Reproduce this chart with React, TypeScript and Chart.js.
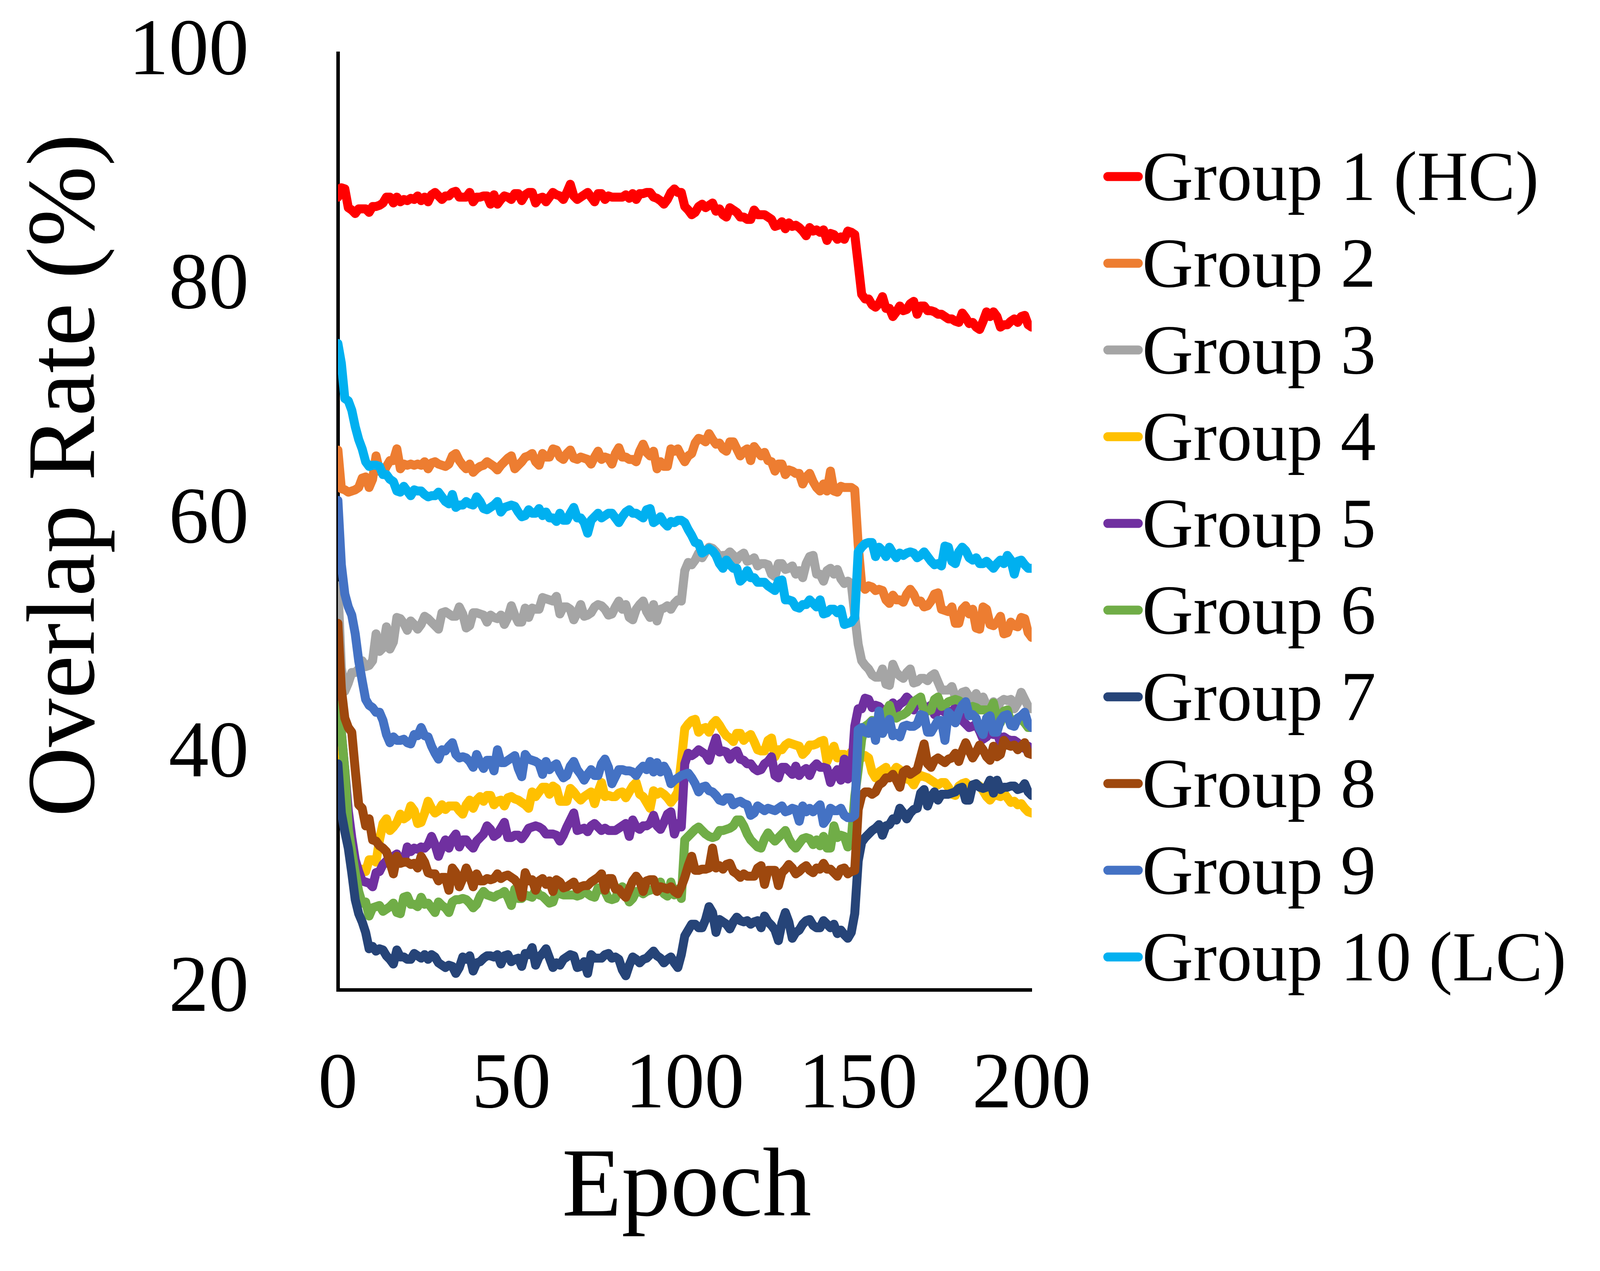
import React, { useEffect, useRef } from "react";
import { Chart, registerables } from "chart.js";

Chart.register(...registerables);

const SERIES_NAMES = [
  "Group 1 (HC)", "Group 2", "Group 3", "Group 4", "Group 5",
  "Group 6", "Group 7", "Group 8", "Group 9", "Group 10 (LC)",
];

const X_TICKS = [0, 50, 100, 150, 200];
const Y_TICKS = [20, 40, 60, 80, 100];

const GROUP1 = [
  87.7, 88.5, 88.4, 86.8, 86.6, 86.3, 86.7, 86.7, 86.7, 86.4, 86.9, 86.9, 87.0, 87.2, 87.7, 87.7, 87.2, 87.7, 87.3, 87.5,
  87.4, 87.6, 87.5, 87.8, 87.4, 87.7, 87.3, 87.9, 88.1, 87.8, 87.5, 87.8, 87.8, 88.1, 88.2, 87.7, 87.7, 87.7, 88.1, 87.3,
  87.7, 87.7, 87.8, 87.8, 87.1, 87.9, 87.1, 87.5, 87.8, 87.7, 87.5, 88.0, 88.0, 87.4, 87.9, 88.1, 88.1, 87.2, 87.6, 87.7,
  87.3, 87.7, 88.1, 87.9, 87.8, 87.5, 88.1, 88.8, 87.8, 87.5, 87.7, 87.9, 88.1, 87.7, 87.3, 88.0, 88.0, 87.5, 87.8, 87.7,
  87.7, 87.7, 87.7, 87.9, 87.6, 88.0, 87.5, 88.0, 88.0, 88.1, 88.1, 87.7, 87.6, 87.4, 87.1, 87.5, 88.1, 88.4, 88.1, 88.1,
  86.9, 86.6, 86.2, 86.4, 86.9, 87.1, 86.8, 87.0, 87.2, 86.5, 86.7, 86.2, 86.0, 86.8, 86.6, 86.4, 86.0, 86.0, 85.8, 85.8,
  86.6, 86.2, 86.2, 86.2, 86.0, 85.8, 85.2, 85.3, 85.6, 85.0, 85.5, 85.2, 85.3, 85.1, 84.8, 84.4, 85.1, 84.8, 84.9, 84.7,
  84.9, 84.0, 84.6, 84.5, 84.1, 84.3, 84.1, 84.8, 84.7, 84.5, 82.0, 79.4, 79.0, 79.0, 78.5, 78.3, 78.6, 79.2, 78.2, 78.2,
  77.5, 77.9, 78.4, 78.0, 78.1, 78.6, 78.8, 77.7, 78.4, 78.4, 78.0, 78.0, 77.9, 77.7, 77.7, 77.5, 77.3, 77.3, 77.1, 77.0,
  77.8, 77.4, 76.9, 77.0, 76.6, 76.4, 77.1, 77.9, 77.5, 77.9, 77.5, 76.6, 76.8, 76.8, 77.1, 77.3, 77.0, 77.5, 77.6, 76.8,
  76.6,
];

const GROUP2 = [
  66.1, 62.8, 62.7, 62.5, 62.6, 62.7, 62.9, 63.7, 63.8, 62.9, 63.6, 65.6, 64.3, 64.1, 64.7, 65.2, 65.2, 66.2, 64.5, 64.9,
  64.8, 64.9, 64.8, 64.9, 64.8, 65.1, 64.5, 65.0, 65.1, 64.9, 64.8, 64.7, 64.9, 65.6, 65.8, 65.2, 64.8, 64.5, 64.9, 64.2,
  64.5, 64.7, 64.8, 65.1, 64.9, 64.7, 64.4, 64.8, 65.1, 65.4, 65.6, 64.5, 64.8, 65.1, 65.5, 65.6, 65.8, 65.1, 64.8, 65.8,
  65.5, 65.5, 66.2, 66.1, 65.5, 65.3, 65.8, 66.1, 65.4, 65.3, 65.5, 65.4, 65.3, 64.9, 65.5, 66.0, 65.3, 65.5, 65.4, 64.9,
  65.8, 66.3, 65.5, 65.5, 65.3, 65.3, 65.1, 66.0, 66.6, 65.9, 65.6, 66.0, 64.5, 65.1, 64.7, 64.7, 66.2, 66.0, 66.2, 65.6,
  65.1, 65.6, 65.8, 66.7, 67.1, 67.0, 66.8, 67.5, 67.0, 66.6, 66.7, 66.2, 66.0, 66.8, 66.8, 66.2, 65.6, 66.0, 66.2, 65.2,
  66.4, 66.0, 65.6, 65.9, 65.2, 65.1, 64.3, 64.9, 64.9, 64.0, 64.4, 64.3, 64.1, 64.1, 63.2, 63.8, 64.1, 63.4, 62.9, 62.6,
  63.2, 62.6, 64.3, 62.6, 62.5, 63.0, 62.9, 62.9, 62.9, 62.7, 58.0, 54.6, 54.2, 54.5, 54.4, 54.1, 54.2, 54.1, 53.3, 53.0,
  53.7, 53.3, 53.3, 53.1, 53.8, 54.2, 53.8, 53.1, 53.2, 52.7, 52.8, 53.2, 53.8, 53.9, 52.5, 52.4, 52.3, 52.7, 51.3, 51.3,
  52.5, 52.8, 52.1, 52.5, 50.9, 50.8, 52.7, 52.5, 51.2, 51.1, 51.4, 51.9, 50.4, 50.5, 51.4, 51.1, 51.0, 51.8, 51.7, 50.5,
  50.1,
];

const GROUP3 = [
  54.5, 47.5, 45.5, 46.2, 47.1, 47.1, 47.4, 48.1, 47.6, 47.7, 48.1, 50.4, 48.9, 49.2, 51.0, 49.1, 49.7, 51.8, 51.7, 51.3,
  50.7, 51.5, 51.2, 50.8, 51.2, 51.9, 51.7, 51.4, 51.1, 50.8, 52.2, 52.3, 52.1, 51.9, 51.9, 52.7, 52.1, 50.9, 51.1, 52.2,
  52.2, 52.1, 52.0, 51.4, 52.0, 51.8, 51.7, 52.0, 51.2, 51.8, 52.8, 52.0, 51.4, 51.4, 52.6, 51.8, 52.6, 52.5, 52.5, 53.5,
  53.4, 53.3, 53.2, 53.6, 52.1, 52.7, 52.7, 52.5, 51.6, 52.2, 52.9, 51.9, 52.0, 52.2, 52.7, 52.9, 52.8, 52.5, 52.0, 52.1,
  52.7, 53.2, 52.5, 52.9, 51.8, 51.6, 52.5, 52.9, 53.2, 52.3, 51.8, 52.9, 51.5, 52.5, 52.6, 52.8, 52.5, 53.0, 53.3, 53.2,
  55.8, 56.5, 56.3, 56.7, 57.3, 56.9, 57.4, 57.8, 57.7, 57.4, 57.0, 57.1, 57.1, 57.4, 57.1, 56.7, 57.1, 57.3, 56.6, 56.7,
  56.9, 56.2, 56.4, 56.4, 56.3, 55.5, 55.3, 56.4, 56.4, 55.9, 56.0, 56.2, 55.5, 55.8, 55.2, 56.4, 57.0, 57.1, 55.5, 55.5,
  54.9, 55.8, 56.0, 55.5, 55.9, 55.1, 54.7, 54.9, 54.7, 52.0, 49.5, 48.1, 47.7, 47.4, 46.9, 46.7, 46.7, 47.4, 46.1, 46.0,
  47.8, 47.1, 46.8, 46.6, 47.1, 47.4, 46.2, 46.3, 46.6, 46.6, 46.4, 46.8, 47.0, 46.3, 45.6, 45.6, 45.6, 45.9, 45.0, 45.0,
  45.4, 45.5, 45.0, 44.8, 45.3, 44.6, 45.0, 44.3, 44.1, 44.6, 43.9, 44.6, 44.8, 44.7, 44.8, 44.0, 44.5, 45.4, 44.8, 44.2,
  44.0,
];

const GROUP4 = [
  41.0, 38.0, 35.0, 33.0, 31.5, 30.6, 30.2, 30.3, 30.1, 31.1, 31.1, 30.9, 32.8, 34.2, 34.6, 33.6, 33.9, 34.3, 35.0, 34.6,
  34.8, 35.7, 35.3, 34.2, 34.3, 35.1, 36.1, 35.5, 35.1, 35.3, 35.8, 35.4, 35.7, 35.7, 35.7, 35.3, 35.0, 35.8, 36.2, 35.5,
  36.2, 36.5, 36.1, 36.6, 36.6, 35.8, 36.1, 36.2, 35.7, 36.4, 36.5, 36.3, 36.2, 36.0, 35.8, 35.5, 36.9, 36.5, 36.9, 37.3,
  37.3, 36.7, 37.4, 37.2, 36.1, 36.1, 36.1, 37.2, 36.9, 36.5, 36.2, 36.5, 36.7, 36.9, 35.9, 36.9, 37.7, 36.5, 36.6, 36.5,
  36.5, 36.8, 36.9, 36.4, 36.9, 37.4, 37.7, 36.7, 36.5, 36.0, 35.5, 37.0, 36.7, 36.9, 36.7, 36.4, 36.0, 36.4, 36.9, 39.5,
  42.3, 42.7, 43.0, 43.1, 42.0, 42.3, 42.4, 42.0, 42.7, 43.0, 42.6, 42.1, 41.7, 41.5, 41.2, 41.9, 41.9, 41.3, 41.6, 41.8,
  41.2, 40.5, 40.4, 40.4, 41.3, 41.5, 39.9, 40.5, 40.5, 40.9, 41.1, 41.0, 40.9, 40.8, 40.1, 40.4, 40.9, 40.9, 41.0, 41.2,
  41.3, 39.5, 40.2, 40.8, 39.8, 40.1, 40.1, 39.7, 40.3, 40.0, 40.6, 39.8, 40.0, 39.8, 38.6, 38.1, 38.6, 38.8, 39.0, 38.1,
  38.6, 39.0, 38.8, 38.3, 38.0, 37.9, 37.5, 38.1, 38.3, 38.2, 38.1, 37.9, 37.7, 37.5, 37.7, 37.7, 37.3, 36.7, 36.6, 37.4,
  37.6, 37.7, 37.4, 37.4, 37.6, 37.4, 37.0, 36.5, 36.2, 36.6, 36.6, 36.5, 36.8, 36.4, 36.0, 36.1, 35.8, 35.9, 35.5, 35.2,
  35.1,
];

const GROUP5 = [
  46.0, 42.0, 38.8, 35.3, 33.0, 31.1, 30.1, 29.3, 29.2, 29.1, 28.8, 30.0, 30.1, 30.7, 31.0, 30.7, 31.4, 31.6, 31.0, 30.9,
  32.2, 31.8, 32.1, 32.0, 32.2, 32.1, 32.4, 33.1, 32.4, 31.4, 32.2, 32.8, 32.1, 32.9, 33.3, 32.2, 32.8, 32.8, 32.4, 32.1,
  32.7, 33.0, 33.3, 34.0, 33.7, 33.1, 33.3, 33.8, 34.3, 33.0, 33.0, 33.2, 33.2, 32.9, 33.3, 33.8, 33.9, 34.0, 33.9, 33.7,
  33.3, 33.3, 33.3, 33.2, 32.7, 33.2, 33.9, 34.5, 35.1, 33.6, 33.7, 33.8, 33.5, 34.0, 34.2, 33.9, 33.6, 33.8, 33.6, 33.6,
  33.6, 33.8, 34.0, 34.2, 33.1, 34.5, 33.9, 33.7, 34.0, 34.0, 34.2, 34.9, 34.0, 33.7, 34.3, 35.0, 35.2, 33.3, 34.2, 33.9,
  39.3, 40.2, 40.0, 40.2, 40.5, 40.3, 40.1, 39.6, 40.6, 41.5, 40.3, 40.4, 40.3, 39.7, 40.2, 40.4, 39.7, 39.6, 39.3, 39.3,
  38.9, 38.7, 38.8, 39.3, 39.5, 39.9, 38.3, 38.1, 39.0, 39.0, 38.7, 38.4, 39.1, 38.3, 38.7, 38.9, 38.3, 39.0, 39.3, 39.0,
  39.0, 38.9, 37.7, 38.4, 38.8, 37.9, 39.7, 38.0, 38.3, 42.5, 44.0, 44.0, 44.9, 44.8, 44.1, 44.3, 44.2, 43.9, 43.4, 44.1,
  44.5, 44.0, 44.4, 44.6, 45.0, 44.7, 43.9, 44.6, 44.8, 44.1, 44.1, 44.3, 43.5, 43.8, 43.9, 43.7, 43.8, 43.7, 44.1, 43.7,
  43.0, 42.7, 42.4, 42.5, 42.7, 42.1, 41.4, 41.6, 42.1, 41.8, 42.0, 41.1, 41.6, 41.4, 41.3, 41.3, 41.1, 40.8, 40.6, 40.8,
  40.6,
];

const GROUP6 = [
  44.3, 42.0, 38.8, 33.7, 31.8, 30.0, 28.4, 27.4, 27.5, 26.3, 27.0, 27.1, 27.2, 26.7, 26.9, 27.1, 27.4, 26.6, 26.5, 27.9,
  28.0, 27.3, 27.3, 27.1, 27.9, 27.3, 27.4, 27.0, 26.6, 27.5, 27.2, 27.0, 26.6, 27.5, 27.7, 27.7, 27.8, 27.7, 27.4, 27.0,
  27.3, 28.0, 28.4, 28.1, 28.0, 27.9, 28.1, 28.2, 28.4, 27.9, 27.2, 28.6, 27.8, 27.8, 28.1, 28.0, 27.9, 28.6, 28.1, 28.0,
  27.7, 27.4, 27.5, 28.4, 28.2, 28.1, 28.1, 28.1, 28.1, 28.0, 28.1, 28.5, 28.2, 28.0, 27.9, 28.7, 28.6, 28.4, 27.8, 27.7,
  27.8, 28.6, 28.8, 28.1, 27.5, 27.8, 28.4, 28.4, 28.2, 28.4, 28.5, 28.6, 28.8, 29.2, 28.2, 28.0, 29.2, 28.1, 28.6, 27.8,
  32.8, 33.1, 33.4, 33.7, 33.9, 33.6, 33.3, 33.1, 33.0, 33.1, 33.6, 33.6, 33.7, 33.8, 34.0, 34.5, 34.5, 34.0, 33.3, 32.8,
  32.5, 32.2, 32.1, 32.9, 33.4, 33.0, 32.7, 33.0, 33.3, 33.6, 32.9, 32.4, 32.1, 32.5, 32.9, 33.0, 32.9, 32.4, 32.8, 32.3,
  33.1, 32.1, 32.1, 34.0, 33.0, 33.2, 33.1, 32.2, 32.8, 36.5, 38.8, 41.4, 42.5, 42.7, 43.0, 42.4, 42.0, 41.9, 43.7, 44.3,
  43.3, 43.2, 43.4, 43.5, 43.7, 44.1, 44.6, 44.8, 45.0, 43.7, 43.8, 43.9, 44.8, 45.0, 44.2, 44.3, 44.6, 44.7, 44.8, 44.7,
  44.5, 44.2, 44.1, 44.2, 44.1, 43.9, 43.9, 43.9, 43.9, 44.5, 43.2, 42.8, 43.8, 43.9, 42.8, 43.0, 43.2, 43.1, 42.8, 42.4,
  42.4,
];

const GROUP7 = [
  39.3, 35.1, 33.5, 32.1, 30.0, 27.7, 26.5, 25.8, 24.9, 23.5, 23.7, 23.3, 23.5, 23.4, 22.9, 22.6, 22.2, 23.4, 22.8, 22.8,
  22.6, 22.6, 23.1, 22.9, 22.7, 23.0, 22.6, 23.0, 22.8, 22.3, 22.1, 21.9, 22.1, 22.0, 21.4, 21.9, 22.8, 22.6, 22.9, 21.6,
  22.3, 22.4, 22.7, 22.9, 22.9, 22.8, 23.0, 22.2, 22.9, 23.0, 22.4, 22.6, 22.7, 22.0, 23.1, 23.0, 23.6, 22.1, 22.8, 23.1,
  23.5, 22.7, 21.9, 22.3, 22.1, 22.6, 22.8, 23.0, 22.9, 21.9, 22.0, 22.4, 21.4, 23.0, 22.7, 22.7, 22.7, 23.0, 23.1, 22.7,
  22.8, 22.6, 21.7, 21.2, 22.1, 22.8, 22.6, 22.3, 22.6, 22.7, 23.0, 23.3, 22.9, 22.7, 22.3, 22.6, 22.8, 22.3, 21.9, 23.0,
  24.6, 25.1, 25.6, 25.6, 25.3, 25.3, 26.0, 27.1, 26.6, 24.9, 26.0, 25.8, 25.6, 25.2, 25.8, 26.2, 25.9, 25.8, 25.9, 25.6,
  25.8, 25.9, 25.3, 26.3, 25.8, 25.5, 25.1, 24.2, 25.7, 26.6, 25.8, 24.4, 24.9, 25.1, 25.6, 25.9, 26.0, 25.5, 25.3, 25.3,
  25.9, 25.6, 25.3, 25.6, 24.8, 25.1, 24.7, 24.4, 24.9, 26.5, 31.0, 32.6, 33.0, 33.3, 33.6, 33.8, 34.1, 33.2, 34.0, 34.1,
  34.6, 34.5, 35.5, 35.1, 34.6, 35.1, 35.4, 35.5, 36.8, 37.1, 35.7, 36.5, 36.9, 36.2, 36.7, 36.7, 36.7, 36.8, 36.9, 37.2,
  37.3, 36.2, 36.2, 37.5, 37.6, 37.3, 37.2, 37.3, 37.9, 36.8, 37.9, 37.1, 37.3, 37.3, 37.4, 37.4, 37.1, 37.2, 37.6, 36.9,
  36.6,
];

const GROUP8 = [
  51.3, 45.7, 43.2, 42.4, 42.0, 38.8, 35.8, 35.5, 34.0, 34.6, 32.8, 32.7, 32.3, 32.1, 31.8, 30.9, 29.9, 31.4, 30.8, 30.9,
  30.9, 30.7, 30.8, 30.4, 31.4, 30.9, 30.0, 29.9, 29.9, 29.3, 29.6, 29.6, 28.5, 30.4, 30.0, 28.8, 29.5, 30.4, 29.7, 28.8,
  29.9, 29.3, 29.3, 29.5, 29.4, 29.5, 29.9, 29.5, 29.7, 29.8, 29.6, 29.4, 29.0, 27.9, 30.0, 29.3, 29.4, 28.5, 29.3, 29.5,
  29.0, 29.3, 28.4, 29.4, 29.2, 28.7, 28.8, 29.0, 29.2, 28.6, 28.8, 28.9, 28.9, 29.2, 29.4, 29.6, 29.9, 28.5, 29.5, 29.5,
  28.6, 28.6, 28.2, 27.9, 28.6, 29.3, 29.7, 29.3, 28.4, 29.3, 29.4, 29.4, 28.4, 28.8, 28.7, 28.6, 28.8, 28.4, 28.2, 28.8,
  29.6, 30.6, 31.4, 30.2, 30.2, 30.3, 30.3, 30.4, 32.1, 30.4, 30.6, 30.3, 30.7, 30.8, 30.1, 29.9, 29.6, 29.9, 29.7, 29.7,
  29.7, 30.4, 30.6, 29.0, 30.2, 30.2, 30.2, 28.9, 30.0, 30.3, 30.7, 30.4, 29.9, 30.1, 30.4, 30.6, 30.2, 30.0, 30.4, 30.3,
  30.8, 30.3, 30.3, 30.0, 29.7, 30.3, 30.4, 29.9, 30.1, 30.2, 35.4, 36.6, 36.9, 36.9, 36.7, 36.9, 37.5, 37.7, 38.1, 38.1,
  38.4, 37.9, 37.3, 38.6, 38.8, 38.4, 38.6, 38.8, 39.9, 41.0, 39.3, 39.0, 39.6, 39.8, 39.6, 39.4, 39.7, 39.8, 40.2, 39.5,
  40.4, 41.1, 40.4, 39.8, 40.3, 40.9, 40.5, 39.9, 39.6, 40.8, 39.9, 40.1, 41.3, 40.9, 40.8, 40.9, 40.5, 40.8, 41.1, 40.2,
  40.1,
];

const GROUP9 = [
  61.8, 56.3, 53.8, 52.7, 52.0, 50.4, 48.1, 46.4, 44.8, 44.3, 44.1, 43.7, 43.7, 43.0, 41.8, 41.1, 41.6, 41.3, 41.3, 41.4,
  41.1, 41.0, 41.8, 41.7, 42.4, 41.7, 41.6, 40.8, 40.2, 39.7, 40.5, 40.4, 40.8, 41.1, 40.1, 39.8, 39.9, 39.8, 39.5, 39.0,
  40.1, 39.4, 38.9, 39.6, 39.6, 38.7, 40.5, 39.4, 39.4, 39.6, 39.8, 40.0, 38.9, 38.2, 40.1, 39.7, 39.6, 39.5, 39.3, 38.4,
  39.5, 38.8, 39.1, 39.3, 38.6, 38.1, 38.3, 39.1, 39.5, 38.8, 38.4, 37.9, 38.4, 38.8, 38.3, 38.3, 39.3, 39.7, 39.0, 37.6,
  38.2, 38.8, 38.8, 38.7, 38.7, 38.6, 38.3, 38.8, 39.1, 38.8, 39.5, 38.6, 39.4, 38.6, 39.1, 38.6, 37.6, 37.9, 38.1, 38.3,
  38.4, 38.5, 38.1, 37.6, 36.9, 37.3, 37.4, 37.0, 36.9, 36.6, 36.2, 36.1, 36.4, 36.4, 35.8, 36.0, 36.1, 35.9, 35.8, 34.9,
  35.1, 35.7, 35.5, 35.3, 35.5, 35.4, 35.3, 35.5, 35.7, 35.2, 35.3, 35.5, 35.4, 34.4, 35.7, 35.2, 35.5, 35.2, 35.5, 35.8,
  34.2, 34.6, 35.5, 35.3, 35.3, 35.5, 34.9, 34.7, 34.7, 34.9, 42.2, 42.4, 42.0, 41.9, 42.9, 41.3, 43.8, 41.9, 42.5, 43.1,
  41.7, 41.9, 41.6, 42.5, 42.6, 42.5, 42.5, 42.7, 43.5, 43.4, 42.0, 42.0, 42.5, 43.0, 43.0, 41.3, 43.7, 43.4, 42.8, 43.7,
  44.3, 44.6, 43.4, 43.5, 43.2, 42.3, 41.8, 43.2, 43.4, 42.0, 42.0, 43.0, 43.4, 43.5, 42.6, 42.5, 43.2, 43.4, 43.7, 42.7,
  42.4,
];

const GROUP10 = [
  75.2, 73.5, 70.5, 70.3, 69.5, 68.1, 67.0, 66.2, 65.1, 64.7, 64.8, 64.8, 64.7, 64.0, 64.0, 63.6, 63.4, 62.6, 62.5, 63.0,
  62.6, 62.2, 62.7, 62.6, 62.6, 62.3, 62.1, 62.2, 62.2, 62.5, 62.1, 61.7, 61.5, 62.3, 61.2, 61.4, 61.4, 61.7, 61.5, 61.4,
  62.1, 61.7, 61.1, 61.0, 61.2, 61.4, 61.7, 60.8, 61.2, 61.3, 61.4, 61.3, 60.8, 60.4, 60.5, 61.0, 60.7, 60.7, 61.1, 60.5,
  60.8, 60.3, 60.3, 60.0, 60.7, 60.1, 60.1, 60.7, 61.2, 60.3, 60.3, 59.9, 59.0, 60.1, 60.4, 60.7, 60.3, 60.5, 60.7, 60.7,
  60.3, 59.9, 60.4, 60.8, 61.0, 60.7, 60.7, 60.5, 60.3, 61.0, 61.1, 59.9, 60.1, 60.4, 59.9, 59.6, 60.0, 59.9, 60.1, 60.1,
  59.9, 59.3, 58.8, 58.2, 58.1, 57.3, 57.5, 57.7, 57.5, 57.1, 56.4, 56.0, 56.7, 56.3, 56.0, 56.0, 54.9, 55.2, 55.8, 55.2,
  55.2, 54.8, 54.8, 54.8, 54.5, 54.3, 54.1, 54.9, 55.0, 53.3, 53.3, 53.2, 52.7, 52.6, 52.9, 52.9, 53.3, 53.0, 52.7, 53.3,
  52.1, 52.2, 52.5, 52.5, 52.2, 52.5, 51.2, 51.3, 51.4, 51.8, 57.4, 57.8, 58.1, 58.2, 58.2, 57.0, 57.8, 57.5, 57.0, 57.8,
  57.3, 56.9, 57.3, 57.1, 57.3, 57.4, 57.3, 56.9, 57.1, 57.4, 57.0, 56.6, 56.3, 56.4, 56.2, 57.9, 57.8, 56.6, 56.4, 57.4,
  57.8, 57.5, 56.9, 56.7, 56.9, 56.4, 56.4, 56.6, 56.3, 56.0, 56.4, 56.7, 56.4, 57.1, 56.7, 55.5, 56.6, 56.7, 56.3, 56.0,
  56.0,
];

const SERIES_VALUES = [GROUP1, GROUP2, GROUP3, GROUP4, GROUP5, GROUP6, GROUP7, GROUP8, GROUP9, GROUP10];

const COLORS = [
  "#FF0000", "#ED7D31", "#A5A5A5", "#FFC000", "#7030A0",
  "#70AD47", "#264478", "#9E480E", "#4472C4", "#00B0F0",
];

const FONT = "'Liberation Serif', 'Times New Roman', serif";
const W = 4134;
const H = 3254;
const AREA = { left: 865, right: 2641, top: 136, bottom: 2534 };
const LINE_W = 23;
const AXIS_W = 9;

const overlayPlugin = {
  id: "overlayTexts",
  afterDraw(chart: any) {
    const ctx = chart.ctx as CanvasRenderingContext2D;
    ctx.save();
    ctx.fillStyle = "#000";

    // y-axis title
    ctx.save();
    ctx.translate(240, 1217);
    ctx.rotate(-Math.PI / 2);
    ctx.font = `248px ${FONT}`;
    ctx.textAlign = "center";
    ctx.textBaseline = "alphabetic";
    ctx.fillText("Overlap Rate (%)", 0, 0);
    ctx.restore();

    // x-axis title
    ctx.font = `250px ${FONT}`;
    ctx.textAlign = "center";
    ctx.textBaseline = "alphabetic";
    ctx.fillText("Epoch", 1758, 3112);

    // legend
    ctx.font = `181px ${FONT}`;
    ctx.textAlign = "left";
    SERIES_NAMES.forEach((name, i) => {
      const y = 452 + i * 222;
      ctx.strokeStyle = COLORS[i];
      ctx.lineWidth = LINE_W;
      ctx.lineCap = "round";
      ctx.beginPath();
      ctx.moveTo(2836, y);
      ctx.lineTo(2914, y);
      ctx.stroke();
      ctx.fillStyle = "#000";
      ctx.fillText(name, 2924, y + 60);
    });
    ctx.restore();
  },
};

export default function App() {
  const canvasRef = useRef<HTMLCanvasElement | null>(null);

  useEffect(() => {
    document.body.style.margin = "0";
    const canvas = canvasRef.current;
    if (!canvas) return;

    const datasets = SERIES_VALUES.map((vals, i) => ({
      label: SERIES_NAMES[i],
      data: vals.map((v, idx) => ({ x: idx, y: v })),
      borderColor: COLORS[i],
      backgroundColor: COLORS[i],
      borderWidth: LINE_W,
      pointRadius: 0,
      tension: 0,
      fill: false,
      borderCapStyle: "round" as const,
      borderJoinStyle: "round" as const,
      order: SERIES_VALUES.length - 1 - i,
    }));

    const chart = new Chart(canvas, {
      type: "line",
      data: { datasets },
      options: {
        animation: false,
        responsive: false,
        devicePixelRatio: 1,
        layout: { padding: { left: 0, right: W - AREA.right, top: AREA.top, bottom: 0 } },
        plugins: {
          legend: { display: false },
          tooltip: { enabled: false },
        },
        scales: {
          x: {
            type: "linear",
            min: X_TICKS[0],
            max: X_TICKS[X_TICKS.length - 1],
            afterBuildTicks: (scale: any) => {
              scale.ticks = X_TICKS.map((v) => ({ value: v }));
            },
            ticks: {
              color: "#000",
              font: { family: FONT, size: 203 },
              padding: 118,
              maxRotation: 0,
              autoSkip: false,
            },
            grid: { display: false },
            border: { display: true, color: "#000", width: AXIS_W },
            afterFit: (scale: any) => {
              scale.height = H - AREA.bottom;
              scale.paddingLeft = 0;
              scale.paddingRight = 0;
            },
          },
          y: {
            type: "linear",
            min: Y_TICKS[0],
            max: Y_TICKS[Y_TICKS.length - 1],
            afterBuildTicks: (scale: any) => {
              scale.ticks = Y_TICKS.map((v) => ({ value: v }));
            },
            ticks: {
              color: "#000",
              font: { family: FONT, size: 205 },
              padding: 220,
              autoSkip: false,
            },
            grid: { display: false },
            border: { display: true, color: "#000", width: AXIS_W },
            afterFit: (scale: any) => {
              scale.width = AREA.left;
              scale.paddingTop = 0;
              scale.paddingBottom = 0;
            },
          },
        },
      },
      plugins: [overlayPlugin],
    });

    return () => {
      chart.destroy();
    };
  }, []);

  return (
    <div style={{ width: W, height: H, background: "#fff" }}>
      <canvas ref={canvasRef} width={W} height={H} style={{ display: "block", width: W, height: H }} />
    </div>
  );
}
